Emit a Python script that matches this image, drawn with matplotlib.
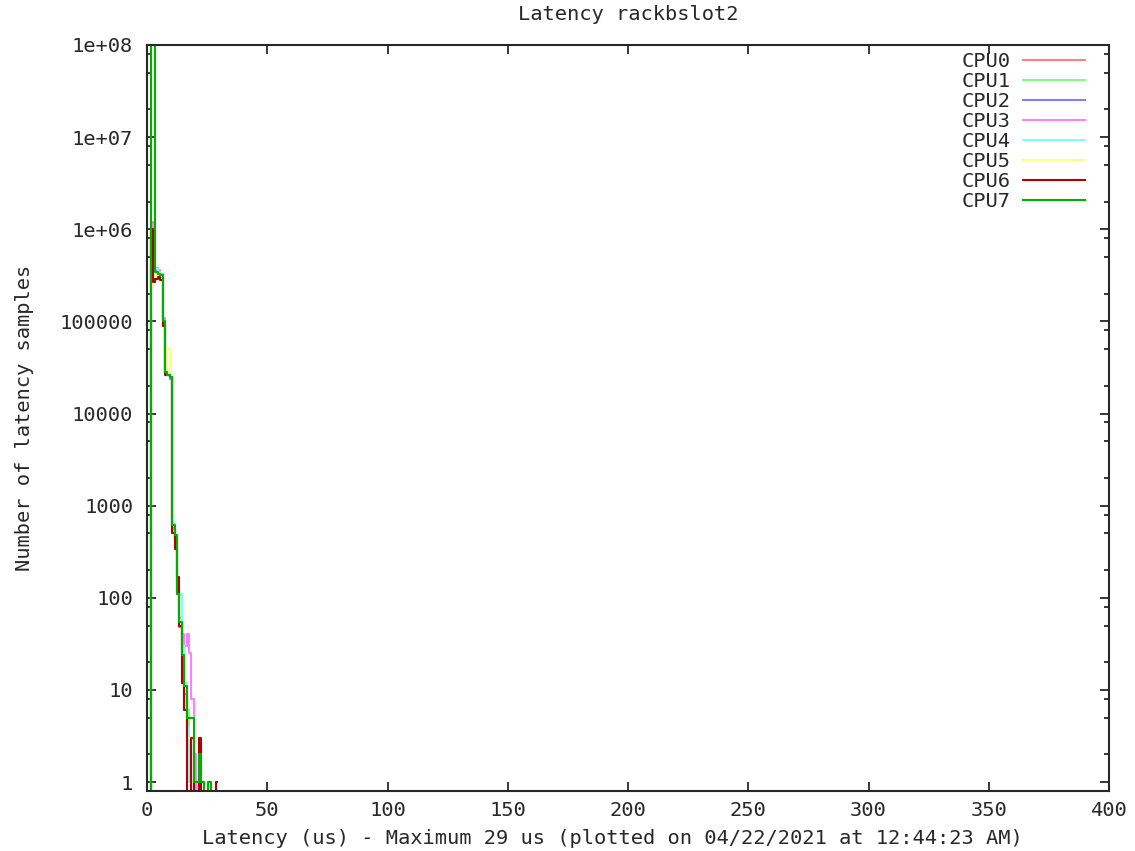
import numpy as np
import matplotlib
matplotlib.use("Agg")
from matplotlib import pyplot as plt

# latency bins in microseconds (0 .. 29)
latency_us = np.arange(30)

cpu_labels = ["CPU0", "CPU1", "CPU2", "CPU3", "CPU4", "CPU5", "CPU6", "CPU7"]
cpu_colors = ["#ff8080", "#80ff80", "#8080ff", "#ff80ff",
              "#80ffff", "#ffff80", "#b00000", "#00b000"]

# number of samples per latency bin
cpu0 = [0, 0, 1.2e6, 3.0e5, 3.4e5, 3.3e5, 3.0e5, 1.0e5, 2.7e4, 2.6e4, 2.5e4, 560, 420, 120, 50,
        20, 9, 5, 2, 1, 0, 0, 0, 0, 0, 0, 0, 0, 0, 0]
cpu1 = [0, 0, 2e8, 2e8, 3.5e5, 3.4e5, 3.2e5, 1.05e5, 2.9e4, 2.6e4, 2.5e4, 640, 470, 115, 55,
        25, 11, 6, 3, 1, 1, 0, 0, 0, 0, 0, 0, 0, 0, 0]
cpu2 = [0, 0, 8e5, 3.1e5, 3.5e5, 3.3e5, 3.1e5, 9.5e4, 2.7e4, 2.6e4, 2.4e4, 580, 430, 110, 48,
        12, 6, 3, 1, 0, 0, 0, 0, 0, 0, 0, 0, 0, 0, 0]
cpu3 = [0, 0, 1.1e6, 3.2e5, 3.8e5, 3.6e5, 3.3e5, 1.1e5, 3.0e4, 2.6e4, 2.5e4, 600, 450, 130, 60,
        40, 30, 40, 25, 8, 2, 0, 0, 0, 0, 0, 0, 0, 0, 0]
cpu4 = [0, 0, 6e5, 3.3e5, 3.7e5, 3.4e5, 3.2e5, 9.0e4, 3.1e4, 2.7e4, 2.5e4, 650, 480, 130, 110,
        30, 12, 4, 1, 0, 0, 0, 0, 0, 0, 0, 0, 0, 0, 0]
cpu5 = [0, 0, 2.5e5, 2.9e5, 3.3e5, 3.2e5, 3.1e5, 1.0e5, 2.8e4, 5.0e4, 2.5e4, 600, 440, 115, 50,
        18, 8, 3, 3, 1, 0, 0, 0, 0, 0, 0, 0, 0, 0, 0]
cpu6 = [0, 0, 1.0e6, 2.7e5, 2.9e5, 3.0e5, 2.8e5, 9.0e4, 2.6e4, 2.6e4, 2.5e4, 500, 340, 170, 50,
        12, 6, 0, 0, 3, 0, 0, 3, 0, 0, 0, 0, 0, 0, 1]
cpu7 = [0, 0, 2e8, 2e8, 3.4e5, 3.3e5, 3.2e5, 1.0e5, 2.8e4, 2.6e4, 2.5e4, 620, 480, 110, 55,
        24, 11, 5, 5, 5, 1, 1, 2, 1, 0, 0, 1, 0, 0, 0]

x_ticks = [0, 50, 100, 150, 200, 250, 300, 350, 400]
y_ticks = [1, 10, 100, 1000, 10000, 100000, 1e6, 1e7, 1e8]
y_tick_labels = ["1", "10", "100", "1000", "10000", "100000", "1e+06", "1e+07", "1e+08"]


def main():
    plt.rcParams['font.family'] = ['DejaVu Sans Mono']
    fs = 14.7
    txt = '#282828'

    fig = plt.figure(figsize=(11.35, 8.51), dpi=100)
    ax = fig.add_axes([147/1135, 1-791/851, (1109-147)/1135, (791-45)/851])

    series = [cpu0, cpu1, cpu2, cpu3, cpu4, cpu5, cpu6, cpu7]
    for vals, lab, col in zip(series, cpu_labels, cpu_colors):
        ax.step(latency_us, vals, where='mid', color=col, lw=1.5, label=lab)

    ax.set_yscale('log', nonpositive='clip')
    ax.set_xlim(0, 400)
    ax.set_ylim(0.8, 1e8)

    ax.set_xticks(x_ticks)
    ax.set_xticklabels([str(t) for t in x_ticks])
    ax.set_yticks(y_ticks)
    ax.set_yticklabels(y_tick_labels)
    minors = [m*10.0**e for e in range(0, 8) for m in (2, 5, 8)]
    ax.set_yticks(minors, minor=True)
    ax.yaxis.set_minor_formatter(plt.NullFormatter())
    ax.xaxis.set_minor_locator(plt.NullLocator())

    ax.tick_params(which='major', direction='in', length=6.5, width=1.3,
                   top=True, right=True, labelsize=fs, colors=txt)
    ax.tick_params(axis='x', which='major', pad=7)
    ax.tick_params(axis='y', which='major', pad=10)
    ax.tick_params(which='minor', direction='in', length=3.5, width=1.3,
                   left=True, right=True, colors=txt)
    for s in ax.spines.values():
        s.set_linewidth(1.5)
        s.set_color(txt)

    fig.text(628/1135, 1-15/851, "Latency rackbslot2", ha='center', va='center',
             fontsize=fs, color=txt)
    fig.text(612/1135, 1-838/851,
             "Latency (us) - Maximum 29 us (plotted on 04/22/2021 at 12:44:23 AM)",
             ha='center', va='center', fontsize=fs, color=txt)
    fig.text(25/1135, 1-418/851, "Number of latency samples", ha='center', va='center',
             rotation=90, fontsize=fs, color=txt)

    leg = ax.legend(loc='upper right', bbox_to_anchor=(1085/1135, 1-52/851),
                    bbox_transform=fig.transFigure, frameon=False, markerfirst=False,
                    fontsize=fs, handlelength=3.04, handletextpad=0.6,
                    labelspacing=0.05, borderpad=0, borderaxespad=0)
    for t in leg.get_texts():
        t.set_color(txt)

    fig.savefig("out.png", dpi=100)


if __name__ == '__main__':
    main()
